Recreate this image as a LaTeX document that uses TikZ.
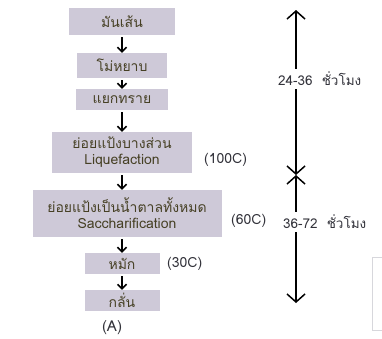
\documentclass[tikz,border=0pt]{standalone}
\usepackage{fontspec}
\setmainfont{Loma}[Script=Thai]
\usetikzlibrary{arrows.meta}
\definecolor{boxfill}{RGB}{206,201,216}
\definecolor{boxtext}{RGB}{70,64,36}
\definecolor{labeltext}{RGB}{50,50,58}
\definecolor{faintedge}{RGB}{215,215,220}
\tikzset{
  stepbox/.style={fill=boxfill, text=boxtext, inner sep=0pt, align=center,
    font=\fontsize{14}{16}\selectfont},
  flowarrow/.style={draw=black, line width=1.7pt, shorten <=2pt,
    -{Straight Barb[length=4.5pt,width=9pt,line width=1.5pt]}},
  spanarrow/.style={draw=black, line width=1.7pt,
    {Straight Barb[length=8pt,width=18pt,line width=1.5pt]}-{Straight Barb[length=8pt,width=18pt,line width=1.5pt]}},
  templabel/.style={text=labeltext, anchor=west, inner sep=0pt,
    font=\fontsize{14}{16}\selectfont},
  spanlabel/.style={text=labeltext, anchor=west, fill=white, inner xsep=1pt, inner ysep=3pt,
    font=\fontsize{13.5}{15}\selectfont},
}
\begin{document}
\begin{tikzpicture}[x=1pt, y=-1pt]
\useasboundingbox (0,0) rectangle (382,338);

% process steps
\node[stepbox, minimum width=106, minimum height=27] (n1) at (122,21.5) {มันเส้น};
\node[stepbox, minimum width=90,  minimum height=25] (n2) at (122,65.5) {โม่หยาบ};
\node[stepbox, minimum width=92,  minimum height=21] (n3) at (122,99.5) {แยกทราย};
\node[stepbox, minimum width=140, minimum height=41] (n4) at (122,152.5) {ย่อยแป้งบางส่วน\\Liquefaction};
\node[stepbox, minimum width=189, minimum height=47] (n5) at (127,213.5) {ย่อยแป้งเป็นน้ำตาลทั้งหมด\\Saccharification};
\node[stepbox, minimum width=75,  minimum height=21] (n6) at (122,263.5) {หมัก};
\node[stepbox, minimum width=75,  minimum height=21] (n7) at (122,300.5) {กลั่น};

\draw[flowarrow] (n1.south) -- (n2.north);
\draw[flowarrow] (n2.south) -- (n3.north);
\draw[flowarrow] (n3.south) -- (n4.north);
\draw[flowarrow] (n4.south) -- (n5.north -| n4.south);
\draw[flowarrow] (n5.south -| n6.north) -- (n6.north);
\draw[flowarrow] (n6.south) -- (n7.north);

% temperatures
\node[templabel] (t1) at (204,160) {(100C)};
\node[templabel] (t2) at (231,221) {(60C)};
\node[templabel] (t3) at (167,264) {(30C)};

\node[text=labeltext, font=\fontsize{15}{16}\selectfont, inner sep=0pt] (cap) at (112,328) {(A)};

% time spans
\coordinate (top) at (296,10);
\coordinate (mid) at (296,175);
\coordinate (bot) at (296,303);
\draw[spanarrow] (mid) -- (top);
\draw[spanarrow] (mid) -- (bot);
\node[spanlabel] (s1) at (277,79) {24-36 \ ชั่วโมง};
\node[spanlabel] (s2) at (282,222) {36-72 \ ชั่วโมง};

% edge of the neighbouring panel
\draw[faintedge, line width=1pt] (384,257) -- (372,257) -- (372,330) -- (384,330);
\end{tikzpicture}
\end{document}
